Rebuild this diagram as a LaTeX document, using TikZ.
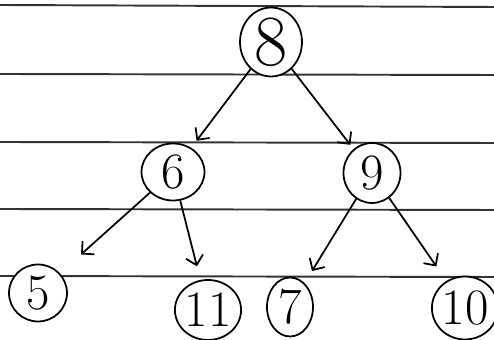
\documentclass[tikz,border=0pt]{standalone}
\usepackage{tikz}
\usetikzlibrary{shapes.geometric, arrows.meta}

\tikzset{
  key/.style={ellipse, draw, line width=1pt, fill=white, inner sep=0pt, font=\fontsize{29}{29}\selectfont},
  link/.style={->, line width=1pt, >={Straight Barb[length=5pt, width=10pt]}},
  ruled/.style={black!80, line width=1.1pt}
}

\begin{document}
\begin{tikzpicture}[x=0.02cm, y=-0.02cm]
    \useasboundingbox (0,0) rectangle (494,340);

    % ruled paper
    \draw[ruled] (0,5) -- (494,7);
    \draw[ruled] (0,74) -- (494,75);
    \draw[ruled] (0,142) -- (494,143);
    \draw[ruled] (0,209) -- (494,210);
    \draw[ruled] (0,276) -- (494,277);

    % keys
    \node[key, minimum width=1.24cm, minimum height=1.36cm, font=\fontsize{41}{41}\selectfont] (n8) at (271,42) {8};
    \node[key, minimum width=1.26cm, minimum height=1.14cm] (n6) at (173,172) {6};
    \node[key, minimum width=1.14cm, minimum height=1.2cm] (n9) at (372,173) {9};
    \node[key, minimum width=1.16cm, minimum height=1.14cm] (n5) at (38,293) {5};
    \node[key, minimum width=1.1cm, minimum height=1.2cm] (n11) at (208,310) {11};
    \node[key, minimum width=0.92cm, minimum height=1.18cm] (n7) at (290,307) {7};
    \node[key, minimum width=1.12cm, minimum height=1.26cm] (n10) at (465,308) {10};

    % links
    \draw[link, shorten >=5pt] (n8) -- (n6);
    \draw[link, shorten >=3pt] (n8) -- (n9);
    \draw[link, shorten >=16pt] (n6) -- (n5);
    \draw[link, shorten >=8pt] (n6) -- (n11);
    \draw[link, shorten >=8pt] (n9) -- (n7);
    \draw[link, shorten >=10pt] (n9) -- (n10);
\end{tikzpicture}
\end{document}
